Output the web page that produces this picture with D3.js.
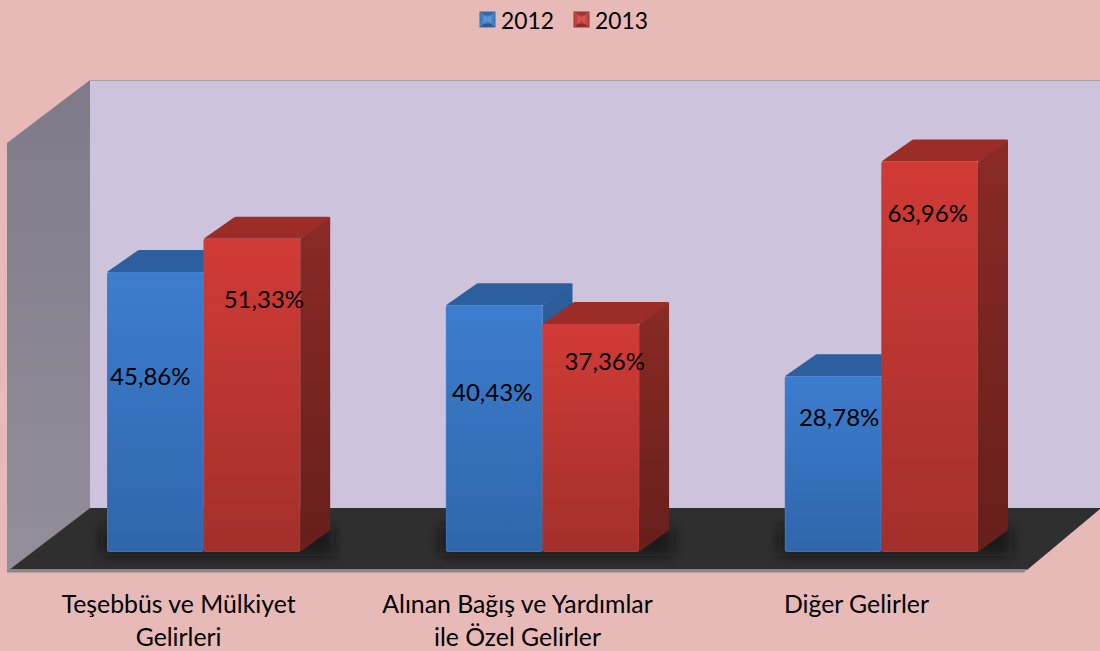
<!DOCTYPE html>
<html><head><meta charset="utf-8">
<script src="https://cdn.jsdelivr.net/npm/d3@7"></script>
<style>html,body{margin:0;padding:0;background:#e7b9b7;overflow:hidden}svg{display:block}text{font-family:Lato,"Open Sans",sans-serif;fill:#000}</style>
</head><body><svg id="c" width="1100" height="651"></svg>
<script>
const categories = ["Teşebbüs ve Mülkiyet|Gelirleri", "Alınan Bağış ve Yardımlar|ile Özel Gelirler", "Diğer Gelirler"];
const seriesNames = ["2012", "2013"];
const values2012 = [45.86, 40.43, 28.78];
const values2013 = [51.33, 37.36, 63.96];
const seriesValues = [values2012, values2013];

const svg = d3.select("#c");
const W = 1100, H = 651;
const baseY = 552, unit = 6.105, dx = 30, dy = 22;
const y = d3.scaleLinear().domain([0, 70]).range([baseY, baseY - 70 * unit]);
const x0 = d3.scaleBand().domain(categories).range([107, 978]).paddingInner(0.43).paddingOuter(0);
const x1 = d3.scaleBand().domain(seriesNames).range([0, x0.bandwidth()]);
const fmt = v => d3.format(".2f")(v).replace(".", ",") + "%";

const defs = svg.append("defs");
function grad(id, stops, x2 = 0, y2 = 1) {
  const g = defs.append("linearGradient").attr("id", id).attr("x1", 0).attr("y1", 0).attr("x2", x2).attr("y2", y2);
  stops.forEach((s, i) => g.append("stop").attr("offset", i / (stops.length - 1)).attr("stop-color", s));
}
grad("fb", ["#3c7dcf", "#2f66aa"]);
grad("fr", ["#d13b37", "#a22f2a"]);
grad("sb", ["#2c5f9e", "#234d80"]);
grad("sr", ["#8a2a25", "#661f1b"]);
grad("wall", ["#7f7a88", "#938f9a"]);
defs.append("filter").attr("id", "blur").attr("filterUnits", "userSpaceOnUse")
  .attr("x", 0).attr("y", 470).attr("width", W).attr("height", 120)
  .append("feGaussianBlur").attr("stdDeviation", 6);

svg.append("rect").attr("width", W).attr("height", H).attr("fill", "#e7b9b7");

// walls and floor
const poly = pts => pts.map(p => p.join(",")).join(" ");
svg.append("polygon").attr("points", poly([[90, 80], [1100, 80], [1100, 508], [90, 508]])).attr("fill", "#cdc3dc");
svg.append("line").attr("x1", 90).attr("x2", 1100).attr("y1", 80.5).attr("y2", 80.5).attr("stroke", "#a79fa9");
svg.append("polygon").attr("points", poly([[7, 143], [90, 80], [90, 508], [7, 572]])).attr("fill", "url(#wall)");
svg.append("polygon").attr("points", poly([[9, 570], [90, 508], [1100, 508], [1100, 509], [1027, 570]])).attr("fill", "#2f2f2f");
svg.append("polygon").attr("points", poly([[7, 569], [1027, 569], [1024, 572.5], [7, 572.5]])).attr("fill", "#8a8789");

const groups = svg.selectAll("g.cat").data(categories).join("g").attr("class", "cat");

// floor shadow
groups.append("rect")
  .attr("x", d => x0(d) - 6).attr("width", x0.bandwidth() + 40)
  .attr("y", baseY - 26).attr("height", 30)
  .attr("fill", "#101010").attr("opacity", .6).attr("filter", "url(#blur)");

const col = ["b", "r"];
const barData = [];
categories.forEach((c, i) => seriesNames.forEach((s, j) => barData.push({ c, s, j, i, v: seriesValues[j][i] })));
const bars = svg.selectAll("g.bar").data(barData).join("g").attr("class", "bar");
bars.each(function (d) {
  const g = d3.select(this), l = x0(d.c) + x1(d.s), r = l + x1.bandwidth(), t = y(d.v), k = col[d.j];
  g.append("polygon").attr("points", poly([[r, t], [r + dx, t - dy], [r + dx, baseY - dy], [r, baseY]])).attr("fill", `url(#s${k})`);
  g.append("path").attr("d", `M${l},${t} L${l + dx},${t - dy + 1} Q${l + dx + 1},${t - dy} ${l + dx + 3},${t - dy} L${r + dx - 2},${t - dy} Q${r + dx},${t - dy} ${r + dx},${t - dy + 2} L${r},${t} Z`)
    .attr("fill", k === "b" ? "#2d5f9f" : "#9c2c27");
  g.append("rect").attr("x", l).attr("y", t).attr("width", r - l).attr("height", baseY - t).attr("rx", 2).attr("fill", `url(#f${k})`);
  g.append("rect").attr("x", l + .5).attr("y", t + .5).attr("width", r - l - 1).attr("height", baseY - t - 1).attr("rx", 2).attr("fill", "none")
    .attr("stroke", k === "b" ? "#4a87d2" : "#c8403a").attr("stroke-opacity", .45);
});

// value labels: reading position as a fraction of bar height, plus a horizontal nudge
const labelFrac = [[.63, .81], [.65, .84], [.77, .87]];
const labelShift = [[-5, 12], [-2, 14], [6, -2]];
bars.append("text")
  .attr("x", d => x0(d.c) + x1(d.s) + x1.bandwidth() / 2 + labelShift[d.i][d.j])
  .attr("y", d => y(d.v * labelFrac[d.i][d.j]))
  .attr("text-anchor", "middle").attr("dominant-baseline", "central")
  .attr("font-size", 24).text(d => fmt(d.v));

// category axis
const axis = d3.axisBottom(x0).tickSize(0).tickFormat("");
const ax = svg.append("g").attr("transform", "translate(0,572)").call(axis);
ax.select(".domain").remove();
ax.selectAll(".tick").each(function (d) {
  const t = d3.select(this).append("text").attr("text-anchor", "middle").attr("font-size", 24.8);
  d.split("|").forEach((line, i) => t.append("tspan").attr("x", -25).attr("y", 41 + i * 32.5).text(line));
});

// legend
const leg = d3.scalePoint().domain(seriesNames).range([480, 574]);
const lg = svg.selectAll("g.leg").data(seriesNames).join("g").attr("class", "leg").attr("transform", d => `translate(${leg(d)},12)`);
lg.each(function (d, i) {
  const g = d3.select(this), c = i ? ["#c9403c", "#e8605a", "#a83431", "#8f2c2a"] : ["#3f80cc", "#6aa6e6", "#2f68ad", "#28598f"];
  [[0, 0, 15, 0], [0, 15, 15, 15], [0, 0, 0, 15], [15, 0, 15, 15]].forEach((e, n) =>
    g.append("polygon").attr("points", `${e[0]},${e[1]} ${e[2]},${e[3]} 7.5,7.5`).attr("fill", [c[2], c[3], c[0], c[0]][n]));
  g.append("rect").attr("x", 3.5).attr("y", 3.5).attr("width", 8).attr("height", 8).attr("fill", c[1]).attr("opacity", .55);
  g.append("rect").attr("width", 15).attr("height", 15).attr("fill", "none").attr("stroke", i ? "#8b3a3a" : "#3d6a9e");
});
lg.append("text").attr("x", 21).attr("y", 8).attr("font-size", 22.8).attr("dominant-baseline", "central").text(d => d);
</script></body></html>
